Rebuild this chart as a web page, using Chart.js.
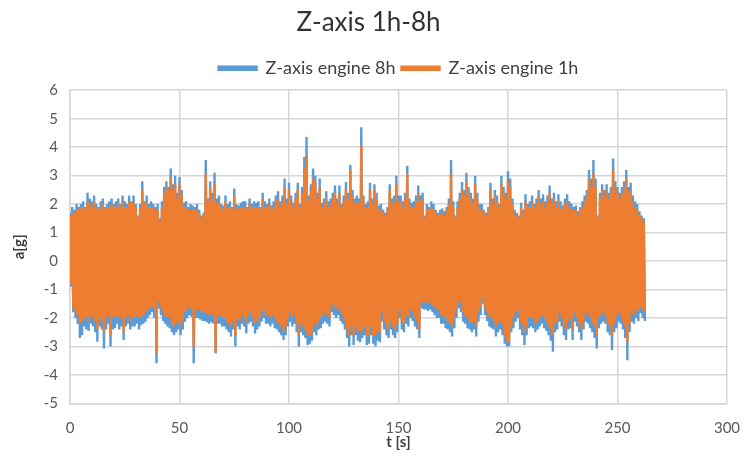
<!DOCTYPE html>
<html>
<head>
<meta charset="utf-8">
<script src="https://cdn.jsdelivr.net/npm/chart.js@4.4.1/dist/chart.umd.min.js"></script>
<style>
  html, body { margin: 0; padding: 0; background: #fff; }
  #wrap { width: 746px; height: 458px; }
</style>
</head>
<body>
<div id="wrap"><canvas id="lineChart" width="746" height="458"></canvas></div>
<script>
// envelope of the signal, one value per second (t = 0..262 s)
const seriesNames = ['Z-axis engine 8h', 'Z-axis engine 1h'];
const xTicks = [0, 50, 100, 150, 200, 250, 300];
const yTicks = [-5, -4, -3, -2, -1, 0, 1, 2, 3, 4, 5, 6];

const max8h = [
  1.7, 1.9, 1.8, 2.0, 1.9, 2.0, 2.1, 1.9, 2.4, 2.2,
  2.1, 2.3, 2.0, 1.9, 2.1, 2.2, 1.9, 2.0, 2.1, 2.2,
  2.0, 2.1, 2.2, 2.0, 2.3, 2.1, 2.0, 2.3, 2.1, 2.3,
  2.0, 1.6, 2.0, 2.8, 2.1, 2.3, 2.0, 2.1, 2.0, 1.9,
  2.0, 1.5, 2.1, 2.6, 2.8, 2.6, 3.25, 2.7, 3.0, 2.4,
  2.95, 2.5, 2.05, 2.1, 1.9, 2.0, 1.95, 1.9, 2.0, 1.8,
  1.6, 1.7, 3.55, 2.2, 2.8, 2.4, 3.1, 2.2, 2.3, 2.0,
  1.95, 2.3, 2.0, 2.1, 1.9, 2.55, 2.0, 1.95, 2.05, 2.1,
  2.1, 1.9, 2.2, 2.0, 2.1, 2.05, 2.1, 1.9, 2.4, 2.1,
  2.0, 2.2, 1.95, 2.1, 2.3, 2.45, 2.1, 2.3, 2.9, 2.2,
  2.75, 2.3, 2.05, 2.4, 2.75, 2.0, 2.6, 3.66, 4.36, 2.3,
  2.7, 3.25, 3.0, 2.4, 2.9, 2.05, 2.2, 2.45, 2.1, 2.2,
  2.4, 2.65, 2.2, 2.65, 2.0, 2.3, 2.78, 2.4, 3.37, 2.5,
  2.2, 2.3, 2.2, 4.7, 2.3, 2.0, 2.1, 2.75, 2.2, 2.7,
  2.4, 1.95, 2.0, 1.8, 1.7, 1.9, 2.7, 2.2, 2.3, 3.0,
  2.3, 2.3, 2.1, 2.4, 3.35, 2.2, 2.05, 2.1, 2.3, 2.65,
  2.3, 2.4, 1.6, 2.0, 1.9, 2.1, 2.0, 1.8, 1.7, 1.8,
  1.85, 1.75, 1.9, 2.2, 3.55, 2.1, 1.6, 2.1, 2.4, 2.78,
  2.5, 3.1, 2.6, 2.4, 2.2, 3.0, 2.4, 2.0, 2.0, 1.8,
  1.7, 1.9, 2.75, 2.2, 2.5, 2.3, 2.0, 3.0, 2.6, 2.4,
  3.15, 2.9, 2.2, 1.8, 1.7, 1.6, 2.05, 1.8, 2.35, 2.0,
  2.1, 2.3, 2.0, 2.2, 2.5, 2.2, 2.35, 2.1, 2.3, 2.65,
  2.2, 2.4, 2.1, 2.35, 2.1, 1.95, 2.2, 2.35, 2.1, 2.0,
  1.9, 1.95, 1.75, 1.9, 2.1, 2.3, 2.5, 3.2, 2.9, 3.55,
  2.9, 1.6, 2.4, 2.7, 2.5, 2.7, 2.4, 2.6, 3.6, 2.8,
  2.6, 2.4, 2.6, 2.8, 3.2, 2.6, 2.75, 2.3, 2.1, 2.0,
  1.75, 1.6, 1.5
];
const min8h = [
  -0.9, -1.8, -2.0, -2.2, -2.7, -2.6, -2.3, -2.4, -2.45, -2.2,
  -2.3, -2.5, -2.83, -2.3, -2.4, -3.07, -2.4, -2.2, -3.0, -2.4,
  -2.36, -2.2, -2.4, -2.3, -2.77, -2.3, -2.2, -2.4, -2.3, -2.3,
  -2.2, -2.4, -2.25, -2.2, -2.13, -2.0, -1.9, -1.8, -2.0, -3.59,
  -1.66, -1.9, -2.1, -2.2, -2.3, -2.36, -2.5, -2.6, -2.5, -2.4,
  -2.6, -2.4, -2.13, -2.0, -1.9, -1.95, -3.59, -2.0, -2.0, -2.05,
  -2.1, -2.1, -2.15, -2.2, -2.15, -2.2, -3.24, -2.2, -2.2, -2.3,
  -2.3, -2.4, -2.5, -2.65, -2.4, -3.0, -2.3, -2.4, -2.2, -2.3,
  -2.54, -2.2, -2.13, -2.3, -2.54, -2.4, -2.3, -2.13, -2.0, -2.2,
  -2.2, -2.3, -2.2, -2.36, -2.4, -2.5, -2.6, -2.77, -2.6, -2.3,
  -2.13, -2.3, -2.2, -2.5, -3.0, -2.5, -2.6, -2.7, -2.95, -2.9,
  -2.8, -2.5, -2.6, -2.4, -2.36, -2.2, -2.13, -2.2, -2.3, -1.8,
  -1.9, -2.0, -1.9, -2.1, -2.2, -2.4, -2.7, -3.0, -2.6, -2.95,
  -2.6, -2.8, -2.85, -2.7, -2.6, -2.95, -2.9, -2.6, -2.9, -3.0,
  -2.8, -2.85, -2.13, -2.4, -2.6, -2.7, -2.4, -2.6, -2.7, -2.5,
  -2.0, -2.4, -2.5, -2.2, -2.3, -2.0, -2.1, -2.3, -2.4, -2.7,
  -1.66, -1.7, -1.7, -1.75, -1.7, -1.8, -1.9, -2.0, -2.0, -2.2,
  -2.2, -2.36, -2.4, -2.5, -2.65, -2.36, -2.0, -1.66, -1.8, -2.13,
  -2.2, -2.36, -2.4, -2.5, -2.4, -2.65, -2.13, -1.9, -1.5, -1.9,
  -2.1, -2.3, -2.36, -2.4, -2.65, -2.5, -2.4, -2.6, -2.9, -3.0,
  -3.0, -2.5, -2.36, -2.13, -2.0, -2.4, -2.6, -2.95, -2.6, -2.36,
  -2.3, -2.36, -2.5, -2.4, -2.3, -2.2, -2.36, -2.45, -2.6, -2.8,
  -3.18, -2.5, -2.4, -2.13, -2.3, -2.6, -2.77, -2.4, -2.36, -2.77,
  -2.13, -2.3, -2.5, -2.77, -2.4, -2.13, -2.2, -2.36, -2.5, -2.7,
  -3.07, -2.36, -2.2, -2.13, -2.2, -2.5, -2.6, -3.12, -2.5, -2.36,
  -2.13, -2.2, -2.4, -2.7, -3.48, -2.5, -2.13, -2.2, -2.0, -2.1,
  -1.83, -2.0, -2.1
];
const max1h = [
  1.6, 1.7, 1.7, 1.8, 1.8, 1.9, 1.9, 1.8, 2.1, 2.0,
  1.9, 2.1, 1.9, 1.8, 1.9, 2.0, 1.8, 1.9, 1.9, 2.0,
  1.9, 1.9, 2.0, 1.9, 2.1, 1.9, 1.9, 2.1, 2.0, 2.1,
  1.9, 1.5, 1.9, 2.5, 2.0, 2.1, 1.9, 1.9, 1.9, 1.8,
  1.8, 1.4, 1.9, 2.4, 2.6, 2.5, 2.95, 2.5, 2.7, 2.2,
  2.7, 2.3, 1.9, 1.9, 1.8, 1.8, 1.8, 1.8, 1.8, 1.7,
  1.5, 1.6, 3.05, 2.1, 2.6, 2.2, 2.7, 2.0, 2.1, 1.9,
  1.8, 2.1, 1.9, 1.9, 1.8, 2.3, 1.9, 1.8, 1.9, 1.9,
  1.9, 1.8, 2.0, 1.9, 1.9, 1.9, 1.9, 1.8, 2.2, 1.9,
  1.9, 2.0, 1.8, 1.9, 2.1, 2.2, 1.9, 2.1, 2.6, 2.0,
  2.5, 2.1, 1.9, 2.2, 2.5, 1.9, 2.4, 3.3, 3.7, 2.1,
  2.5, 2.95, 2.8, 2.2, 2.6, 1.9, 2.0, 2.2, 1.9, 2.0,
  2.2, 2.4, 2.0, 2.4, 1.9, 2.1, 2.5, 2.2, 3.2, 2.3,
  2.0, 2.1, 2.0, 4.05, 2.1, 1.9, 1.9, 2.5, 2.0, 2.5,
  2.2, 1.8, 1.8, 1.7, 1.6, 1.8, 2.5, 2.0, 2.1, 2.7,
  2.1, 2.1, 1.9, 2.2, 3.05, 2.0, 1.9, 1.9, 2.1, 2.4,
  2.1, 2.2, 1.5, 1.8, 1.8, 1.9, 1.8, 1.7, 1.6, 1.7,
  1.7, 1.6, 1.8, 2.0, 3.05, 1.9, 1.5, 1.9, 2.2, 2.5,
  2.3, 2.8, 2.4, 2.2, 2.0, 2.7, 2.2, 1.8, 1.8, 1.7,
  1.6, 1.8, 2.5, 2.0, 2.3, 2.1, 1.9, 2.7, 2.4, 2.2,
  2.85, 2.6, 2.0, 1.7, 1.6, 1.5, 1.9, 1.7, 2.1, 1.9,
  1.9, 2.1, 1.9, 2.0, 2.3, 2.0, 2.1, 1.9, 2.1, 2.4,
  2.0, 2.2, 1.9, 2.1, 1.9, 1.8, 2.0, 2.1, 1.9, 1.8,
  1.8, 1.8, 1.6, 1.8, 1.9, 2.1, 2.3, 2.9, 2.6, 3.1,
  2.6, 1.5, 2.2, 2.5, 2.3, 2.5, 2.2, 2.4, 3.2, 2.6,
  2.4, 2.2, 2.4, 2.6, 2.9, 2.4, 2.5, 2.1, 1.9, 1.8,
  1.6, 1.5, 1.4
];
const min1h = [
  -0.8, -1.6, -1.8, -1.9, -2.2, -2.1, -2.0, -2.0, -2.1, -1.9,
  -2.0, -2.1, -2.4, -2.0, -2.1, -2.5, -2.0, -1.9, -2.6, -2.0,
  -2.0, -1.9, -2.0, -2.0, -2.5, -2.0, -1.9, -2.1, -2.0, -2.0,
  -1.9, -2.0, -1.95, -1.9, -1.8, -1.7, -1.6, -1.6, -1.7, -3.24,
  -1.4, -1.6, -1.8, -1.9, -2.0, -2.0, -2.2, -2.3, -2.2, -2.1,
  -2.3, -2.1, -1.8, -1.7, -1.6, -1.7, -3.0, -1.7, -1.7, -1.75,
  -1.8, -1.8, -1.85, -1.9, -1.85, -1.9, -3.2, -1.9, -1.9, -2.0,
  -2.0, -2.1, -2.2, -2.3, -2.1, -2.6, -2.0, -2.1, -1.9, -2.0,
  -2.2, -1.9, -1.8, -2.0, -2.2, -2.1, -2.0, -1.8, -1.7, -1.9,
  -1.9, -2.0, -1.9, -2.0, -2.1, -2.2, -2.3, -2.5, -2.3, -2.0,
  -1.8, -2.0, -1.9, -2.2, -2.6, -2.2, -2.3, -2.4, -2.6, -2.6,
  -2.5, -2.2, -2.3, -2.1, -2.0, -1.9, -1.8, -1.9, -2.0, -1.5,
  -1.6, -1.7, -1.6, -1.8, -1.9, -2.1, -2.4, -2.6, -2.3, -2.6,
  -2.3, -2.5, -2.5, -2.4, -2.3, -2.6, -2.6, -2.3, -2.6, -2.6,
  -2.5, -2.5, -1.8, -2.1, -2.3, -2.4, -2.1, -2.3, -2.4, -2.2,
  -1.7, -2.1, -2.2, -1.9, -2.0, -1.7, -1.8, -2.0, -2.1, -2.4,
  -1.4, -1.45, -1.45, -1.5, -1.45, -1.55, -1.6, -1.7, -1.7, -1.9,
  -1.9, -2.0, -2.1, -2.2, -2.3, -2.0, -1.7, -1.4, -1.5, -1.8,
  -1.9, -2.0, -2.1, -2.2, -2.1, -2.3, -1.8, -1.6, -1.3, -1.6,
  -1.8, -2.0, -2.0, -2.1, -2.3, -2.2, -2.1, -2.3, -2.6, -2.8,
  -2.85, -2.3, -2.0, -1.8, -1.7, -2.1, -2.3, -2.5, -2.3, -2.0,
  -2.0, -2.0, -2.2, -2.1, -2.0, -1.9, -2.0, -2.1, -2.3, -2.4,
  -2.6, -2.2, -2.1, -1.8, -2.0, -2.3, -2.4, -2.1, -2.0, -2.4,
  -1.8, -2.0, -2.2, -2.4, -2.1, -1.8, -1.9, -2.0, -2.2, -2.3,
  -2.6, -2.0, -1.9, -1.8, -1.9, -2.2, -2.3, -2.6, -2.2, -2.0,
  -1.8, -1.9, -2.1, -2.3, -2.85, -2.2, -1.8, -1.9, -1.7, -1.8,
  -1.6, -1.7, -1.8
];

// each second: peak up, then peak down half a second later
function toPoints(hi, lo) {
    const pts = [];
    for (let t = 0; t < hi.length; t++) {
        pts.push({x: t, y: hi[t]});
        pts.push({x: t + 0.5, y: lo[t]});
    }
    return pts;
}

const FONT = 'Lato, "Noto Sans", sans-serif';
const gridColor = '#d6d6d6';

// a bit more room under the legend
const legendGap = {
    id: 'legendGap',
    beforeInit(chart) {
        const fit = chart.legend.fit;
        chart.legend.fit = function () {
            fit.call(this);
            this.height += 3;
        };
    }
};

new Chart(document.getElementById('lineChart'), {
    type: 'line',
    data: {
        datasets: [{
            label: seriesNames[0],
            data: toPoints(max8h, min8h),
            borderColor: '#5b9bd5',
            backgroundColor: '#5b9bd5',
            borderWidth: 2.4,
            pointRadius: 0,
            tension: 0,
            order: 1
        }, {
            label: seriesNames[1],
            data: toPoints(max1h, min1h),
            borderColor: '#ed7d31',
            backgroundColor: '#ed7d31',
            borderWidth: 2.4,
            pointRadius: 0,
            tension: 0,
            order: 0
        }]
    },
    plugins: [legendGap],
    options: {
        responsive: false,
        animation: false,
        events: [],
        layout: {padding: {left: 10, right: 19, top: 4, bottom: 7}},
        plugins: {
            title: {
                display: true,
                text: 'Z-axis 1h-8h',
                color: '#333333',
                font: {family: FONT, size: 26, weight: 'normal'},
                padding: {top: 3, bottom: 15}
            },
            legend: {
                fullSize: false,
                labels: {
                    color: '#404040',
                    font: {family: FONT, size: 18},
                    boxWidth: 38,
                    boxHeight: 3,
                    padding: 6,
                    sort: (a, b) => a.datasetIndex - b.datasetIndex
                }
            },
            tooltip: {enabled: false}
        },
        scales: {
            x: {
                type: 'linear',
                min: 0,
                max: 300,
                afterBuildTicks: s => { s.ticks = xTicks.map(v => ({value: v})); },
                afterFit: s => {
                    s.height = 47.5;
                    s.paddingLeft = 0;
                    s.paddingRight = 0;
                },
                ticks: {color: '#595959', font: {family: FONT, size: 15}, padding: 16, maxRotation: 0},
                grid: {color: gridColor, lineWidth: 1.5, drawTicks: false},
                border: {color: gridColor, width: 1.5},
                title: {display: true, text: 't [s]', color: '#404040', font: {family: FONT, size: 15, weight: 'bold'}, padding: {top: 0, bottom: 0}}
            },
            y: {
                min: -5,
                max: 6,
                afterBuildTicks: s => { s.ticks = yTicks.map(v => ({value: v})); },
                afterFit: s => { s.width = 60; },
                ticks: {color: '#595959', font: {family: FONT, size: 15}, padding: 12},
                grid: {color: gridColor, lineWidth: 1.5, drawTicks: false},
                border: {color: gridColor, width: 1.5},
                title: {display: true, text: 'a[g]', color: '#404040', font: {family: FONT, size: 15, weight: 'bold'}, padding: {top: 0, bottom: 4}}
            }
        }
    }
});
</script>
</body>
</html>
